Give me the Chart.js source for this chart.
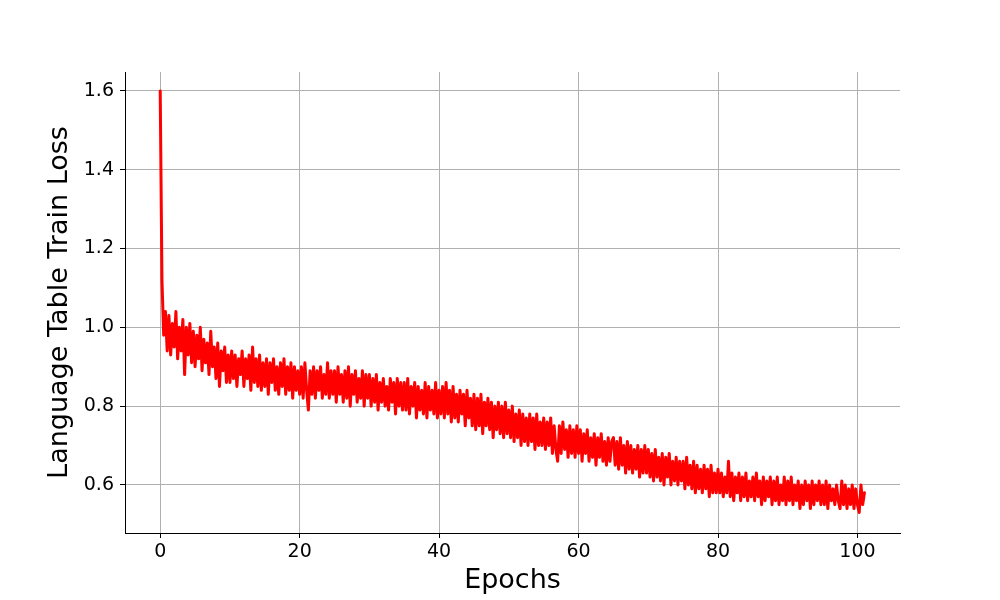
<!DOCTYPE html>
<html>
<head>
<meta charset="utf-8">
<script src="https://cdn.jsdelivr.net/npm/chart.js@4/dist/chart.umd.min.js"></script>
<style>
  html, body { margin: 0; padding: 0; background: #fff; }
  #wrap { width: 1000px; height: 600px; }
</style>
</head>
<body>
<div id="wrap"><canvas id="lossChart" width="1000" height="600"></canvas></div>
<script>
// train steps logged every quarter epoch
var stepsPerEpoch = 4;

// loss readings, one row = 5 epochs
var trainLoss = [
  1.60, 1.12, 0.98, 1.04, 0.94, 1.03, 0.93, 1.01, 0.95, 1.04, 0.92, 1.00, 0.94, 1.02, 0.88, 1.00, 0.93, 1.01, 0.91, 0.99,
  0.90, 0.98, 0.92, 1.00, 0.89, 0.97, 0.91, 0.96, 0.88, 0.99, 0.90, 0.95, 0.87, 0.96, 0.85, 0.94, 0.89, 0.95, 0.86, 0.93,
  0.86, 0.94, 0.87, 0.93, 0.85, 0.92, 0.88, 0.94, 0.85, 0.92, 0.87, 0.93, 0.84, 0.95, 0.86, 0.92, 0.85, 0.93, 0.84, 0.91,
  0.85, 0.92, 0.83, 0.91, 0.86, 0.92, 0.84, 0.90, 0.83, 0.91, 0.85, 0.92, 0.83, 0.90, 0.84, 0.91, 0.82, 0.90, 0.84, 0.89,
  0.83, 0.90, 0.82, 0.91, 0.84, 0.79, 0.89, 0.83, 0.90, 0.82, 0.89, 0.84, 0.90, 0.82, 0.88, 0.83, 0.91, 0.82, 0.89, 0.83,
  0.89, 0.81, 0.90, 0.83, 0.88, 0.81, 0.89, 0.82, 0.90, 0.80, 0.88, 0.83, 0.89, 0.81, 0.87, 0.82, 0.89, 0.80, 0.88, 0.82,
  0.88, 0.80, 0.87, 0.81, 0.88, 0.79, 0.86, 0.81, 0.87, 0.80, 0.85, 0.79, 0.87, 0.81, 0.86, 0.78, 0.87, 0.80, 0.86, 0.79,
  0.86, 0.79, 0.87, 0.78, 0.85, 0.80, 0.86, 0.77, 0.85, 0.79, 0.84, 0.78, 0.86, 0.77, 0.85, 0.79, 0.84, 0.78, 0.86, 0.77,
  0.84, 0.78, 0.85, 0.77, 0.86, 0.78, 0.84, 0.76, 0.85, 0.77, 0.83, 0.76, 0.84, 0.78, 0.83, 0.75, 0.84, 0.77, 0.82, 0.75,
  0.83, 0.74, 0.82, 0.75, 0.83, 0.73, 0.81, 0.75, 0.82, 0.74, 0.81, 0.72, 0.80, 0.74, 0.81, 0.73, 0.80, 0.72, 0.81, 0.73,
  0.79, 0.72, 0.80, 0.71, 0.78, 0.72, 0.79, 0.70, 0.78, 0.71, 0.77, 0.70, 0.78, 0.71, 0.77, 0.69, 0.78, 0.70, 0.76, 0.70,
  0.77, 0.69, 0.76, 0.70, 0.77, 0.68, 0.75, 0.69, 0.66, 0.75, 0.68, 0.76, 0.69, 0.74, 0.67, 0.75, 0.68, 0.74, 0.67, 0.75,
  0.68, 0.74, 0.66, 0.73, 0.68, 0.74, 0.66, 0.72, 0.67, 0.73, 0.65, 0.72, 0.67, 0.73, 0.66, 0.71, 0.65, 0.72, 0.66, 0.71,
  0.72, 0.65, 0.71, 0.64, 0.72, 0.65, 0.70, 0.63, 0.71, 0.64, 0.70, 0.63, 0.69, 0.64, 0.70, 0.62, 0.69, 0.63, 0.70, 0.63,
  0.69, 0.62, 0.68, 0.61, 0.69, 0.62, 0.67, 0.61, 0.68, 0.60, 0.67, 0.62, 0.68, 0.60, 0.66, 0.61, 0.67, 0.60, 0.66, 0.61,
  0.66, 0.59, 0.67, 0.60, 0.65, 0.59, 0.66, 0.58, 0.65, 0.59, 0.64, 0.58, 0.65, 0.59, 0.64, 0.57, 0.65, 0.58, 0.63, 0.58,
  0.64, 0.58, 0.63, 0.57, 0.62, 0.58, 0.66, 0.57, 0.63, 0.56, 0.62, 0.58, 0.63, 0.56, 0.62, 0.57, 0.63, 0.56, 0.61, 0.57,
  0.62, 0.56, 0.63, 0.57, 0.61, 0.55, 0.62, 0.56, 0.61, 0.57, 0.62, 0.55, 0.61, 0.56, 0.62, 0.55, 0.60, 0.56, 0.62, 0.55,
  0.61, 0.56, 0.62, 0.55, 0.60, 0.56, 0.61, 0.54, 0.60, 0.55, 0.61, 0.56, 0.60, 0.54, 0.61, 0.55, 0.60, 0.56, 0.61, 0.55,
  0.60, 0.55, 0.61, 0.54, 0.60, 0.56, 0.59, 0.55, 0.60, 0.56, 0.54, 0.61, 0.55, 0.60, 0.54, 0.59, 0.55, 0.60, 0.54, 0.59,
  0.55, 0.53, 0.60, 0.55, 0.58
];

var xTicks = [0, 20, 40, 60, 80, 100];
var yTicks = [0.6, 0.8, 1.0, 1.2, 1.4, 1.6];

var points = trainLoss.map(function(v, i) {
  return { x: i / stepsPerEpoch, y: v };
});

var font = "'DejaVu Sans', sans-serif";

var ctx = document.getElementById("lossChart");
var lossChart = new Chart(ctx, {
  type: 'line',
  data: {
    datasets: [{
      data: points,
      borderColor: "#ff0000",
      borderWidth: 3,
      borderJoinStyle: 'round',
      borderCapStyle: 'round',
      pointRadius: 0,
      tension: 0,
      fill: false
    }]
  },
  options: {
    responsive: false,
    animation: false,
    events: [],
    layout: { padding: { left: 0, right: 100, top: 72, bottom: 0 } },
    plugins: { legend: { display: false }, tooltip: { enabled: false } },
    scales: {
      x: {
        type: 'linear',
        min: -5.05,
        max: 106.1,
        afterFit: function(scale) { scale.height = 67; },
        afterBuildTicks: function(scale) {
          scale.ticks = xTicks.map(function(v) { return { value: v }; });
        },
        ticks: {
          color: "#000",
          font: { family: font, size: 19 },
          padding: 3,
          maxRotation: 0,
          callback: function(v) { return v; }
        },
        grid: { color: "#b0b0b0", lineWidth: 1, tickColor: "#000", tickLength: 5 },
        border: { color: "#000", width: 1 },
        title: {
          display: true,
          text: "Epochs",
          color: "#000",
          font: { family: font, size: 27 },
          padding: { top: 0, bottom: 3 }
        }
      },
      y: {
        min: 0.478,
        max: 1.648,
        afterFit: function(scale) { scale.width = 125; },
        afterBuildTicks: function(scale) {
          scale.ticks = yTicks.map(function(v) { return { value: v }; });
        },
        ticks: {
          color: "#000",
          font: { family: font, size: 19 },
          padding: 6,
          callback: function(v) { return v.toFixed(1); }
        },
        grid: { color: "#b0b0b0", lineWidth: 1, tickColor: "#000", tickLength: 5 },
        border: { color: "#000", width: 1 },
        title: {
          display: true,
          text: "Language Table Train Loss",
          color: "#000",
          font: { family: font, size: 27 },
          padding: { top: 44, bottom: 0 }
        }
      }
    }
  }
});
</script>
</body>
</html>
